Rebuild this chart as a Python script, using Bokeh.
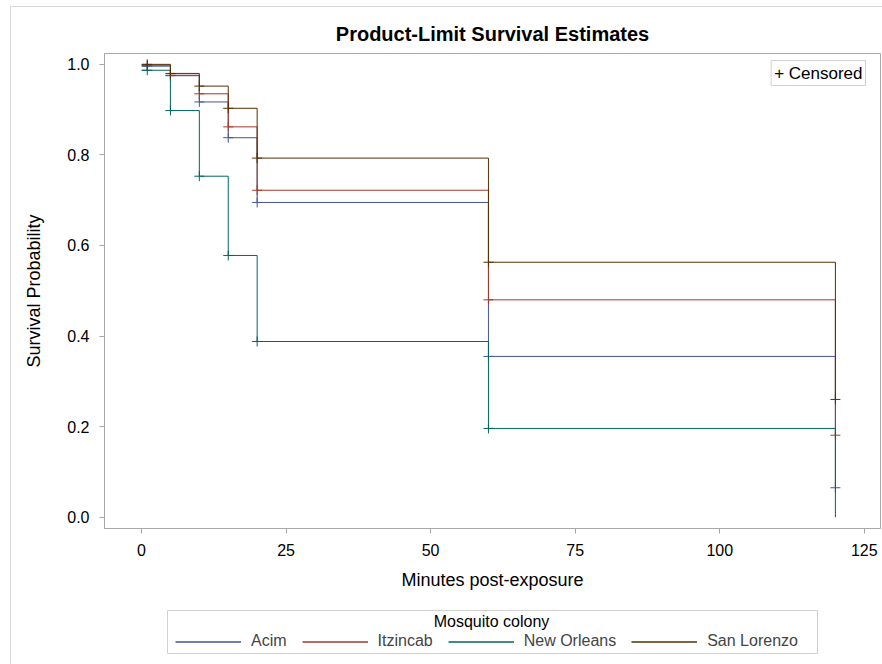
from bokeh.plotting import figure
from bokeh.layouts import column
from bokeh.models import Range1d, FixedTicker, Legend, LegendItem, Label
from bokeh.embed import file_html
from bokeh.resources import INLINE

# ---- data ----
times = [0, 5, 10, 15, 20, 60, 120]
censor_times = [1, 5, 10, 15, 20, 60, 120]
colonies = ["Acim", "Itzincab", "New Orleans", "San Lorenzo"]
acim = [0.996, 0.975, 0.917, 0.838, 0.695, 0.355, 0.065]
itzincab = [0.998, 0.976, 0.935, 0.862, 0.722, 0.480, 0.181]
new_orleans = [0.987, 0.898, 0.753, 0.578, 0.388, 0.196, 0.0]
san_lorenzo = [1.0, 0.980, 0.952, 0.903, 0.793, 0.563, 0.260]
# number of censor marks per series (New Orleans has none at 120)
n_censored = [7, 7, 6, 7]
x_ticks = [0, 25, 50, 75, 100, 125]
y_ticks = [0.0, 0.2, 0.4, 0.6, 0.8, 1.0]

colors = ["#445694", "#A23A2E", "#01665E", "#543005"]
series = [acim, itzincab, new_orleans, san_lorenzo]

FONT = "Liberation Sans"
GREY = "#a8a8a8"
LGREY = "#d0d0d0"

p = figure(width=882, height=600, output_backend="svg", toolbar_location=None,
           x_range=Range1d(-6.4, 127.8), y_range=Range1d(-0.025, 1.024),
           min_border_left=104, min_border_right=2, min_border_top=53, min_border_bottom=72,
           title="Product-Limit Survival Estimates", border_fill_color=None,
           frame_align=False)

p.title.align = "center"
p.title.text_font = FONT
p.title.text_font_size = "20px"
p.title.text_font_style = "bold"
p.title.text_color = "black"
p.title.standoff = 18

p.xgrid.visible = False
p.ygrid.visible = False
p.outline_line_color = GREY
p.outline_line_width = 1

for ax in (p.xaxis[0], p.yaxis[0]):
    ax.axis_line_color = GREY
    ax.major_tick_line_color = GREY
    ax.major_tick_out = 5
    ax.major_tick_in = 0
    ax.minor_tick_line_color = None
    ax.major_label_text_font = FONT
    ax.major_label_text_font_size = "16px"
    ax.major_label_text_color = "black"
    ax.axis_label_text_font = FONT
    ax.axis_label_text_font_size = "18px"
    ax.axis_label_text_font_style = "normal"
    ax.axis_label_text_color = "black"

p.xaxis.ticker = FixedTicker(ticks=x_ticks)
p.yaxis.ticker = FixedTicker(ticks=y_ticks)
p.yaxis.major_label_overrides = {v: f"{v:.1f}" for v in y_ticks}
p.xaxis.axis_label = "Minutes post-exposure"
p.yaxis.axis_label = "Survival Probability"
p.xaxis.major_label_standoff = 10
p.yaxis.major_label_standoff = 10
p.xaxis.axis_label_standoff = 11
p.yaxis.axis_label_standoff = 20

for name, vals, col, nc in zip(colonies, series, colors, n_censored):
    p.step(x=times, y=vals, mode="after", line_color=col, line_width=1)
    p.scatter(x=censor_times[:nc], y=vals[:nc], marker="cross", size=10,
              line_color=col, line_width=1)

# "+ Censored" inset box (top right of the frame)
p.add_layout(Label(x=761, y=468, x_units="screen", y_units="screen",
                   text="+ Censored", text_align="right", text_baseline="top",
                   text_font=FONT, text_font_size="17px", text_color="black",
                   padding=3, border_line_color=LGREY, background_fill_color="white"))

# ---- legend strip below the plot ----
# its own copies of the series lie outside this strip's view; only the legend shows
lg = figure(width=882, height=64, output_backend="svg", toolbar_location=None,
            x_range=Range1d(500, 501), y_range=Range1d(5, 6),
            x_axis_type=None, y_axis_type=None,
            min_border_left=167, min_border_right=65, min_border_top=10, min_border_bottom=11,
            outline_line_color=LGREY, border_fill_color=None, frame_align=False)

items = []
for name, vals, col in zip(colonies, series, colors):
    r = lg.line(x=times, y=vals, line_color=col, line_width=1.3)
    items.append(LegendItem(label=name, renderers=[r]))

legend = Legend(items=items, orientation="horizontal",
                glyph_width=66, glyph_height=13, label_standoff=10, spacing=15,
                padding=0, margin=0, border_line_color=None, background_fill_color=None,
                label_text_font=FONT, label_text_font_size="16px",
                location=(8, 3))
lg.add_layout(legend, "center")
lg.add_layout(Label(x=324, y=32, x_units="screen", y_units="screen",
                    text="Mosquito colony", text_align="center", text_baseline="middle",
                    text_font=FONT, text_font_size="16px", text_color="black"))

layout = column(p, lg, spacing=0)
layout.styles = {
    "background-image": "linear-gradient(#d9d9d9,#d9d9d9), linear-gradient(#d9d9d9,#d9d9d9)",
    "background-size": "1px 100%, 100% 1px",
    "background-position": "10px 6px, 10px 6px",
    "background-repeat": "no-repeat",
}

open("out.html", "w").write(file_html(layout, INLINE))
